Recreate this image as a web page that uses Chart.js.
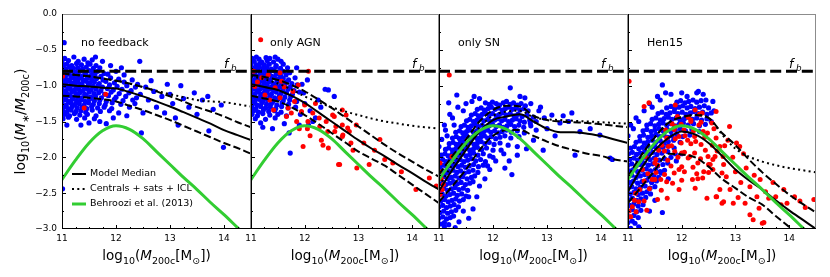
<!DOCTYPE html>
<html>
<head>
<meta charset="utf-8">
<script src="https://cdn.jsdelivr.net/npm/chart.js@4.4.1/dist/chart.umd.min.js"></script>
<style>
body { margin: 0; background: #fff; width: 830px; height: 277px; overflow: hidden; position: relative; }
canvas { position: absolute; top: 0; }
</style>
</head>
<body>
<canvas id="p0"></canvas>
<canvas id="p1"></canvas>
<canvas id="p2"></canvas>
<canvas id="p3"></canvas>
<script>
// ---- data ----
const lineX = [11, 11.25, 11.5, 11.75, 12, 12.25, 12.5, 12.75, 13, 13.25, 13.5, 13.75, 14, 14.25, 14.5];
const behrooziY = [-2.31, -2.04, -1.80, -1.63, -1.56, -1.61, -1.74, -1.92, -2.10, -2.28, -2.45, -2.63, -2.80, -2.98, -3.16];
const fbLevel = -0.80;

// no feedback
const nfMedian = [-0.98, -1.00, -1.01, -1.03, -1.04, -1.09, -1.15, -1.22, -1.29, -1.37, -1.45, -1.53, -1.62, -1.69, -1.76];
const nfUpper  = [-0.83, -0.85, -0.87, -0.90, -0.93, -0.97, -1.02, -1.08, -1.15, -1.22, -1.30, -1.36, -1.43, -1.51, -1.58];
const nfLower  = [-1.14, -1.15, -1.17, -1.19, -1.22, -1.28, -1.34, -1.41, -1.48, -1.56, -1.64, -1.72, -1.80, -1.87, -1.95];
const nfTotal  = [-0.83, -0.85, -0.87, -0.90, -0.93, -0.97, -1.02, -1.07, -1.12, -1.16, -1.20, -1.22, -1.23, -1.26, -1.29];
// only AGN
const agnMedian = [-0.98, -1.02, -1.06, -1.14, -1.24, -1.37, -1.50, -1.63, -1.76, -1.88, -1.99, -2.11, -2.22, -2.34, -2.45];
const agnUpper  = [-0.85, -0.88, -0.92, -0.99, -1.08, -1.19, -1.31, -1.44, -1.57, -1.70, -1.83, -1.95, -2.06, -2.17, -2.27];
const agnLower  = [-1.14, -1.18, -1.22, -1.30, -1.41, -1.53, -1.66, -1.79, -1.92, -2.02, -2.12, -2.25, -2.38, -2.51, -2.64];
const agnTotal  = [-0.87, -0.91, -0.97, -1.05, -1.15, -1.23, -1.30, -1.36, -1.41, -1.46, -1.50, -1.53, -1.56, -1.58, -1.60];
// only SN
const snMedian = [-2.47, -2.17, -1.90, -1.64, -1.48, -1.43, -1.40, -1.50, -1.60, -1.65, -1.65, -1.67, -1.70, -1.75, -1.80];
const snUpper  = [-2.24, -1.98, -1.75, -1.50, -1.34, -1.28, -1.29, -1.42, -1.48, -1.50, -1.51, -1.52, -1.54, -1.56, -1.58];
const snLower  = [-2.62, -2.40, -2.17, -1.90, -1.70, -1.62, -1.62, -1.70, -1.78, -1.85, -1.90, -1.95, -1.98, -2.03, -2.06];
const snTotal  = [-2.40, -2.10, -1.84, -1.58, -1.42, -1.36, -1.35, -1.44, -1.47, -1.48, -1.49, -1.50, -1.51, -1.52, -1.53];
// Hen15
const henMedian = [-2.48, -2.15, -1.90, -1.73, -1.64, -1.68, -1.80, -1.98, -2.17, -2.32, -2.45, -2.60, -2.74, -2.87, -3.00];
const henUpper  = [-2.27, -1.97, -1.72, -1.52, -1.44, -1.41, -1.45, -1.66, -1.83, -2.03, -2.21, -2.37, -2.52, -2.65, -2.77];
const henLower  = [-2.64, -2.41, -2.18, -1.95, -1.96, -2.00, -2.13, -2.30, -2.43, -2.56, -2.66, -2.82, -2.97, -3.12, -3.27];
const henTotal  = [-2.27, -1.97, -1.72, -1.52, -1.44, -1.41, -1.45, -1.68, -1.88, -1.99, -2.06, -2.11, -2.15, -2.18, -2.21];

const nfBlue = [
  [11.05,-0.62],[11.22,-0.6],[11.41,-0.63],
  [11.0,-0.67],[11.12,-0.65],[11.3,-0.66],[11.48,-0.68],[11.56,-0.64],
  [11.03,-0.71],[11.09,-0.7],[11.18,-0.72],[11.27,-0.69],[11.36,-0.71],[11.52,-0.7],[11.63,-0.72],
  [11.0,-0.75],[11.07,-0.77],[11.14,-0.74],[11.21,-0.76],[11.29,-0.75],[11.38,-0.77],[11.45,-0.74],[11.58,-0.76],[11.7,-0.75],
  [11.02,-0.8],[11.1,-0.82],[11.17,-0.79],[11.25,-0.81],[11.33,-0.8],[11.42,-0.82],[11.5,-0.79],[11.57,-0.81],[11.66,-0.8],[11.78,-0.83],
  [11.0,-0.85],[11.06,-0.87],[11.13,-0.84],[11.2,-0.86],[11.28,-0.85],[11.36,-0.87],[11.44,-0.84],[11.53,-0.86],[11.61,-0.85],[11.72,-0.87],[11.85,-0.84],
  [11.03,-0.9],[11.1,-0.92],[11.17,-0.89],[11.24,-0.91],[11.31,-0.9],[11.39,-0.92],[11.47,-0.89],[11.55,-0.91],[11.64,-0.9],[11.76,-0.92],[11.9,-0.89],[12.05,-0.91],
  [11.01,-0.95],[11.07,-0.97],[11.14,-0.94],[11.22,-0.96],[11.29,-0.95],[11.37,-0.97],[11.45,-0.94],[11.52,-0.96],[11.6,-0.95],[11.69,-0.97],[11.81,-0.94],[11.97,-0.96],[12.15,-0.95],
  [11.04,-1.0],[11.11,-1.02],[11.18,-0.99],[11.26,-1.01],[11.34,-1.0],[11.41,-1.02],[11.49,-0.99],[11.58,-1.01],[11.67,-1.0],[11.75,-1.02],[11.88,-0.99],[12.02,-1.01],[12.2,-1.0],[12.36,-1.02],
  [11.0,-1.05],[11.08,-1.07],[11.15,-1.04],[11.23,-1.06],[11.31,-1.05],[11.39,-1.07],[11.46,-1.04],[11.54,-1.06],[11.63,-1.05],[11.72,-1.07],[11.84,-1.04],[11.95,-1.06],[12.11,-1.05],[12.28,-1.07],
  [11.03,-1.1],[11.1,-1.12],[11.18,-1.09],[11.26,-1.11],[11.33,-1.1],[11.42,-1.12],[11.5,-1.09],[11.59,-1.11],[11.68,-1.1],[11.79,-1.12],[11.91,-1.09],[12.06,-1.11],[12.24,-1.1],[12.45,-1.12],
  [11.01,-1.15],[11.07,-1.17],[11.14,-1.14],[11.21,-1.16],[11.29,-1.15],[11.37,-1.17],[11.45,-1.14],[11.53,-1.16],[11.62,-1.15],[11.73,-1.17],[11.86,-1.14],[12.0,-1.16],[12.18,-1.15],[12.38,-1.17],
  [11.04,-1.2],[11.12,-1.22],[11.19,-1.19],[11.27,-1.21],[11.35,-1.2],[11.43,-1.22],[11.51,-1.19],[11.6,-1.21],[11.7,-1.2],[11.82,-1.22],[11.97,-1.19],[12.13,-1.21],[12.31,-1.2],
  [11.0,-1.25],[11.08,-1.27],[11.16,-1.24],[11.24,-1.26],[11.32,-1.25],[11.41,-1.27],[11.49,-1.24],[11.58,-1.26],[11.69,-1.25],[11.8,-1.27],[11.93,-1.24],[12.09,-1.26],
  [11.03,-1.3],[11.11,-1.32],[11.19,-1.29],[11.28,-1.31],[11.37,-1.3],[11.46,-1.32],[11.55,-1.29],[11.66,-1.31],[11.78,-1.3],[11.92,-1.32],
  [11.01,-1.35],[11.09,-1.37],[11.17,-1.34],[11.26,-1.36],[11.35,-1.35],[11.44,-1.37],[11.56,-1.34],[11.71,-1.36],[11.88,-1.35],
  [11.05,-1.4],[11.14,-1.42],[11.23,-1.39],[11.33,-1.41],[11.47,-1.4],[11.63,-1.42],
  [11.02,-1.46],[11.12,-1.44],[11.27,-1.47],[11.42,-1.45],[11.6,-1.46],
  [11.09,-1.55],[11.82,-1.53],[11.04,-0.4],[11.01,-2.44],[12.44,-0.66],[13.99,-1.86],[12.47,-1.66],[13.72,-1.63],
  [12.3,-0.92],[12.4,-0.98],[12.55,-1.02],[12.6,-1.2],[12.7,-1.08],[12.75,-1.3],[12.85,-1.15],[12.9,-1.38],[13.0,-1.12],
  [13.05,-1.25],[13.1,-1.45],[13.2,-1.0],[13.25,-1.18],[13.35,-1.3],[13.45,-1.1],[13.5,-1.4],[13.6,-1.2],[13.7,-1.15],
  [13.8,-1.33],[13.95,-1.27],[12.5,-1.38],[12.65,-0.93],[12.35,-1.25],[12.2,-1.42],[12.15,-0.85],[13.15,-1.55],[12.95,-0.98],
  [11.62,-0.6],[11.75,-0.66],[11.9,-0.72],[12.0,-0.8],[12.1,-0.75],[11.95,-1.45],[12.05,-1.38],[11.7,-1.5],
  [11.5,-1.52],[12.25,-1.3],[11.35,-1.55]
];
const nfRed = [[11.01,-0.87],[11.81,-1.12],[11.41,-1.31]];

const agnBlue = [
  [11.1,-0.6],[11.28,-0.61],[11.45,-0.6],
  [11.02,-0.62],[11.15,-0.63],[11.35,-0.62],[11.5,-0.63],
  [11.06,-0.66],[11.2,-0.67],[11.3,-0.65],[11.42,-0.67],[11.56,-0.66],
  [11.0,-0.7],[11.1,-0.71],[11.17,-0.69],[11.25,-0.71],[11.34,-0.7],[11.47,-0.72],[11.6,-0.7],
  [11.03,-0.75],[11.09,-0.77],[11.15,-0.74],[11.22,-0.76],[11.3,-0.75],[11.38,-0.77],[11.46,-0.74],[11.55,-0.76],[11.68,-0.75],
  [11.0,-0.8],[11.07,-0.82],[11.13,-0.79],[11.2,-0.81],[11.27,-0.8],[11.34,-0.82],[11.42,-0.79],[11.5,-0.81],[11.6,-0.8],[11.72,-0.82],
  [11.03,-0.85],[11.1,-0.87],[11.17,-0.84],[11.24,-0.86],[11.31,-0.85],[11.39,-0.87],[11.47,-0.84],[11.55,-0.86],[11.65,-0.85],
  [11.0,-0.9],[11.07,-0.92],[11.14,-0.89],[11.21,-0.91],[11.28,-0.9],[11.36,-0.92],[11.44,-0.89],[11.52,-0.91],[11.6,-0.9],[11.7,-0.92],[11.82,-0.89],
  [11.04,-0.95],[11.11,-0.97],[11.18,-0.94],[11.25,-0.96],[11.33,-0.95],[11.41,-0.97],[11.49,-0.94],[11.57,-0.96],[11.66,-0.95],[11.76,-0.97],
  [11.01,-1.0],[11.08,-1.02],[11.15,-0.99],[11.22,-1.01],[11.3,-1.0],[11.38,-1.02],[11.46,-0.99],[11.54,-1.01],[11.63,-1.0],[11.73,-1.02],[11.86,-0.99],
  [11.04,-1.05],[11.11,-1.07],[11.18,-1.04],[11.26,-1.06],[11.34,-1.05],[11.42,-1.07],[11.5,-1.04],[11.59,-1.06],[11.69,-1.05],[11.8,-1.07],
  [11.0,-1.1],[11.07,-1.12],[11.14,-1.09],[11.22,-1.11],[11.3,-1.1],[11.38,-1.12],[11.47,-1.09],[11.56,-1.11],[11.66,-1.1],[11.77,-1.12],[11.9,-1.09],
  [11.03,-1.15],[11.1,-1.17],[11.18,-1.14],[11.26,-1.16],[11.35,-1.15],[11.44,-1.17],[11.53,-1.14],[11.63,-1.16],[11.74,-1.15],
  [11.0,-1.2],[11.07,-1.22],[11.15,-1.19],[11.23,-1.21],[11.32,-1.2],[11.41,-1.22],[11.5,-1.19],[11.6,-1.21],[11.72,-1.2],[11.85,-1.22],
  [11.04,-1.25],[11.12,-1.27],[11.2,-1.24],[11.29,-1.26],[11.38,-1.25],[11.48,-1.27],[11.58,-1.24],[11.7,-1.26],
  [11.01,-1.3],[11.09,-1.32],[11.18,-1.29],[11.27,-1.31],[11.36,-1.3],[11.46,-1.32],[11.57,-1.29],[11.69,-1.31],[11.83,-1.3],
  [11.05,-1.35],[11.14,-1.37],[11.23,-1.34],[11.33,-1.36],[11.44,-1.35],[11.56,-1.37],
  [11.02,-1.4],[11.12,-1.42],[11.22,-1.39],[11.35,-1.41],[11.5,-1.4],[11.66,-1.42],
  [11.08,-1.46],[11.27,-1.47],[11.45,-1.45],[11.18,-1.52],[11.62,-1.53],
  [11.71,-1.66],[11.73,-1.94],[12.07,-1.55],[12.44,-1.06],[12.38,-1.05],[12.25,-1.2],[11.95,-0.98],[12.0,-1.25],
  [12.1,-1.35],[11.92,-1.4],[12.15,-1.5],[11.85,-0.75],[12.55,-1.15],[11.4,-1.6],[11.22,-1.58],[12.2,-1.45],
  [11.98,-1.1],[12.3,-1.3],[11.9,-1.55],[12.05,-0.92]
];
const agnRed = [
  [11.18,-0.36],[11.54,-0.82],[12.07,-0.8],[11.88,-0.99],[11.78,-1.08],[12.0,-1.27],[11.94,-1.36],[11.75,-1.38],
  [12.15,-1.38],[12.27,-1.45],[12.06,-1.5],[12.4,-1.5],[12.55,-1.43],[12.58,-1.57],[12.71,-1.69],[12.8,-1.59],
  [12.86,-1.8],[12.43,-1.64],[12.34,-1.83],[11.97,-1.85],[12.65,-2.1],[11.42,-1.34],[11.45,-1.03],[11.32,-0.85],
  [11.57,-0.94],[11.69,-1.31],[11.26,-1.13],[11.2,-0.89],[11.07,-1.01],[11.54,-1.17],[11.81,-1.22],[11.66,-1.43],
  [12.52,-1.41],[12.77,-1.41],[12.7,-1.55],[12.83,-1.64],[12.7,-1.71],[12.63,-2.1],[12.97,-2.15],[12.44,-1.87],
  [13.3,-1.9],[13.49,-2.03],[13.64,-2.08],[14.07,-2.45],[14.32,-2.29],[12.96,-1.55],[12.7,-1.34],[12.56,-1.64],
  [12.28,-1.57],[12.31,-1.76],[11.9,-1.6],[12.2,-1.25],[11.62,-1.02],[11.12,-0.95],[11.35,-1.2],[11.05,-0.8],
  [12.1,-1.7],[12.9,-1.9],[13.1,-1.8],[13.4,-1.75],[13.2,-2.1],[13.8,-2.2],[14.45,-2.4],[11.85,-1.5],[12.05,-1.6]
];

const snBlue = [
  [11.86,-1.24],[11.93,-1.26],[11.99,-1.23],[12.06,-1.25],[12.12,-1.27],[12.19,-1.24],[12.25,-1.22],[12.32,-1.26],[12.38,-1.24],[12.45,-1.27],[12.52,-1.25],[12.6,-1.28],
  [11.71,-1.33],[11.78,-1.31],[11.84,-1.34],[11.91,-1.32],[11.97,-1.3],[12.04,-1.33],[12.1,-1.31],[12.17,-1.34],[12.23,-1.32],[12.3,-1.3],[12.36,-1.33],[12.43,-1.31],[12.5,-1.34],[12.57,-1.32],[12.65,-1.35],
  [11.6,-1.41],[11.67,-1.39],[11.73,-1.42],[11.8,-1.4],[11.86,-1.38],[11.93,-1.41],[11.99,-1.39],[12.06,-1.42],[12.12,-1.4],[12.19,-1.38],[12.25,-1.41],[12.32,-1.39],[12.39,-1.42],[12.46,-1.4],[12.54,-1.43],[12.63,-1.41],[12.75,-1.44],
  [11.51,-1.49],[11.57,-1.47],[11.64,-1.5],[11.7,-1.48],[11.77,-1.46],[11.83,-1.49],[11.9,-1.47],[11.96,-1.5],[12.03,-1.48],[12.09,-1.46],[12.16,-1.49],[12.22,-1.47],[12.29,-1.5],[12.36,-1.48],[12.43,-1.46],[12.5,-1.49],[12.58,-1.51],[12.68,-1.48],[12.8,-1.5],
  [11.41,-1.57],[11.47,-1.55],[11.54,-1.58],[11.6,-1.56],[11.67,-1.54],[11.73,-1.57],[11.8,-1.55],[11.86,-1.58],[11.93,-1.56],[11.99,-1.54],[12.06,-1.57],[12.12,-1.55],[12.19,-1.58],[12.26,-1.56],[12.33,-1.54],[12.4,-1.57],[12.48,-1.55],[12.57,-1.58],[12.7,-1.56],
  [11.31,-1.65],[11.38,-1.63],[11.44,-1.66],[11.51,-1.64],[11.57,-1.62],[11.64,-1.65],[11.7,-1.63],[11.77,-1.66],[11.83,-1.64],[11.9,-1.62],[11.96,-1.65],[12.03,-1.63],[12.1,-1.66],[12.17,-1.64],[12.25,-1.62],[12.34,-1.65],[12.45,-1.63],[12.58,-1.66],
  [11.25,-1.73],[11.32,-1.71],[11.38,-1.74],[11.45,-1.72],[11.51,-1.7],[11.58,-1.73],[11.64,-1.71],[11.71,-1.74],[11.77,-1.72],[11.84,-1.7],[11.9,-1.73],[11.97,-1.71],[12.05,-1.74],[12.13,-1.72],[12.22,-1.7],[12.33,-1.73],[12.48,-1.71],
  [11.19,-1.81],[11.26,-1.79],[11.32,-1.82],[11.39,-1.8],[11.45,-1.78],[11.52,-1.81],[11.58,-1.79],[11.65,-1.82],[11.71,-1.8],[11.78,-1.78],[11.85,-1.81],[11.93,-1.79],[12.02,-1.82],[12.13,-1.8],[12.28,-1.83],
  [11.12,-1.89],[11.18,-1.87],[11.25,-1.9],[11.31,-1.88],[11.38,-1.86],[11.44,-1.89],[11.51,-1.87],[11.57,-1.9],[11.64,-1.88],[11.71,-1.86],[11.79,-1.89],[11.88,-1.87],[12.0,-1.9],
  [11.04,-1.97],[11.11,-1.95],[11.17,-1.98],[11.24,-1.96],[11.3,-1.94],[11.37,-1.97],[11.43,-1.95],[11.5,-1.98],[11.57,-1.96],[11.64,-1.94],[11.72,-1.97],[11.82,-1.95],[11.94,-1.98],
  [11.0,-2.05],[11.07,-2.03],[11.13,-2.06],[11.2,-2.04],[11.26,-2.02],[11.33,-2.05],[11.39,-2.03],[11.46,-2.06],[11.53,-2.04],[11.6,-2.02],[11.68,-2.05],[11.77,-2.03],[11.86,-2.06],
  [11.02,-2.13],[11.09,-2.11],[11.15,-2.14],[11.22,-2.12],[11.28,-2.1],[11.35,-2.13],[11.42,-2.11],[11.49,-2.14],[11.56,-2.12],[11.64,-2.1],[11.73,-2.13],[11.82,-2.11],
  [11.0,-2.21],[11.06,-2.19],[11.13,-2.22],[11.19,-2.2],[11.26,-2.18],[11.33,-2.21],[11.4,-2.19],[11.47,-2.22],[11.55,-2.2],[11.63,-2.18],[11.72,-2.21],
  [11.03,-2.29],[11.09,-2.27],[11.16,-2.3],[11.23,-2.28],[11.3,-2.26],[11.37,-2.29],[11.44,-2.27],[11.52,-2.3],[11.6,-2.28],[11.66,-2.26],
  [11.0,-2.37],[11.07,-2.35],[11.13,-2.38],[11.2,-2.36],[11.27,-2.34],[11.34,-2.37],[11.41,-2.35],[11.49,-2.38],[11.57,-2.36],[11.63,-2.34],
  [11.02,-2.45],[11.09,-2.43],[11.16,-2.46],[11.23,-2.44],[11.3,-2.42],[11.37,-2.45],[11.45,-2.43],[11.53,-2.46],
  [11.0,-2.53],[11.06,-2.51],[11.13,-2.54],[11.2,-2.52],[11.27,-2.5],[11.34,-2.53],[11.42,-2.51],[11.5,-2.54],
  [11.03,-2.61],[11.1,-2.59],[11.17,-2.62],[11.24,-2.6],[11.31,-2.58],[11.38,-2.61],[11.45,-2.59],
  [11.0,-2.69],[11.07,-2.67],[11.14,-2.7],[11.21,-2.68],[11.28,-2.66],[11.36,-2.69],
  [11.02,-2.77],[11.09,-2.75],[11.16,-2.78],[11.23,-2.76],[11.31,-2.74],
  [11.0,-2.85],[11.07,-2.83],[11.14,-2.86],[11.21,-2.84],[11.27,-2.82],
  [11.03,-2.93],[11.1,-2.91],[11.18,-2.94],
  [11.33,-1.13],[11.18,-1.24],[11.61,-1.22],[12.32,-1.03],[12.59,-1.17],[12.35,-2.24],[11.94,-2.17],[12.22,-2.15],
  [11.63,-2.72],[11.37,-2.9],[11.05,-1.75],[11.12,-1.62],[11.0,-1.85],[11.25,-1.45],[11.45,-1.35],[11.75,-1.18],
  [12.5,-1.15],[12.7,-1.25],[12.85,-1.35],[12.15,-1.9],[12.45,-1.85],[12.05,-2.05],[11.55,-2.55],[11.45,-2.75],
  [11.3,-2.98],[11.1,-2.97],[11.85,-2.3],
  [13.09,-1.41],[13.46,-1.38],[13.4,-1.5],[13.24,-1.52],[13.61,-1.64],[13.98,-1.69],[14.17,-2.01],[12.93,-1.9],
  [13.52,-1.97],[12.75,-1.76],[12.69,-1.52],[12.95,-1.45],[13.0,-1.6],[12.88,-1.3],[13.15,-1.7],[12.8,-1.62],
  [13.3,-1.42],[14.21,-2.03],[13.8,-1.6],[12.62,-1.88],
  [11.1,-1.55],[11.2,-1.4],[11.35,-1.3],[11.5,-1.25],[11.65,-1.15],[11.15,-1.7],[11.28,-1.55],[12.0,-2.0],
  [11.9,-2.12],[11.75,-2.4],[11.7,-2.55],[11.55,-2.85],[12.2,-1.95],[12.45,-1.97],[12.3,-2.05]
];
const snRed = [[11.02,-2.08],[11.06,-2.45],[11.02,-2.52],[11.24,-1.99],[11.19,-0.85],[11.04,-2.3],[11.08,-2.38],[11.01,-2.2]];

const henBlue = [
  [11.91,-1.23],[11.98,-1.21],[12.06,-1.24],[12.13,-1.22],[12.21,-1.2],[12.28,-1.23],[12.36,-1.21],
  [11.72,-1.31],[11.8,-1.29],[11.87,-1.32],[11.95,-1.3],[12.02,-1.28],[12.1,-1.31],[12.17,-1.29],[12.25,-1.32],[12.33,-1.3],[12.42,-1.28],[12.5,-1.31],
  [11.56,-1.39],[11.63,-1.37],[11.71,-1.4],[11.78,-1.38],[11.86,-1.36],[11.93,-1.39],[12.01,-1.37],[12.08,-1.4],[12.16,-1.38],[12.23,-1.36],[12.31,-1.39],[12.39,-1.37],[12.47,-1.4],[12.55,-1.38],
  [11.45,-1.47],[11.52,-1.45],[11.6,-1.48],[11.67,-1.46],[11.75,-1.44],[11.82,-1.47],[11.9,-1.45],[11.97,-1.48],[12.05,-1.46],[12.12,-1.44],[12.2,-1.47],[12.28,-1.45],[12.37,-1.48],[12.47,-1.46],
  [11.35,-1.55],[11.42,-1.53],[11.5,-1.56],[11.57,-1.54],[11.65,-1.52],[11.72,-1.55],[11.8,-1.53],[11.87,-1.56],[11.95,-1.54],[12.03,-1.52],[12.12,-1.55],[12.22,-1.53],[12.33,-1.56],[12.44,-1.54],
  [11.28,-1.63],[11.35,-1.61],[11.43,-1.64],[11.5,-1.62],[11.58,-1.6],[11.65,-1.63],[11.73,-1.61],[11.8,-1.64],[11.88,-1.62],[11.97,-1.6],[12.07,-1.63],[12.19,-1.61],[12.33,-1.64],
  [11.22,-1.71],[11.29,-1.69],[11.37,-1.72],[11.44,-1.7],[11.52,-1.68],[11.59,-1.71],[11.67,-1.69],[11.74,-1.72],[11.82,-1.7],[11.91,-1.68],[12.02,-1.71],[12.15,-1.69],
  [11.15,-1.79],[11.22,-1.77],[11.3,-1.8],[11.37,-1.78],[11.45,-1.76],[11.52,-1.79],[11.6,-1.77],[11.67,-1.8],[11.75,-1.78],[11.85,-1.76],[11.97,-1.79],
  [11.05,-1.87],[11.12,-1.85],[11.2,-1.88],[11.27,-1.86],[11.35,-1.84],[11.42,-1.87],[11.5,-1.85],[11.57,-1.88],[11.65,-1.86],[11.74,-1.84],[11.86,-1.87],
  [11.01,-1.95],[11.08,-1.93],[11.16,-1.96],[11.23,-1.94],[11.31,-1.92],[11.38,-1.95],[11.46,-1.93],[11.54,-1.96],[11.63,-1.94],[11.74,-1.92],[11.88,-1.95],
  [11.03,-2.03],[11.11,-2.01],[11.18,-2.04],[11.26,-2.02],[11.33,-2.0],[11.41,-2.03],[11.49,-2.01],[11.58,-2.04],[11.68,-2.02],[11.8,-2.0],
  [11.0,-2.11],[11.07,-2.09],[11.15,-2.12],[11.22,-2.1],[11.3,-2.08],[11.38,-2.11],[11.46,-2.09],[11.55,-2.12],[11.65,-2.1],[11.74,-2.08],
  [11.03,-2.19],[11.1,-2.17],[11.18,-2.2],[11.26,-2.18],[11.34,-2.16],[11.42,-2.19],[11.51,-2.17],[11.6,-2.2],[11.68,-2.18],
  [11.0,-2.27],[11.07,-2.25],[11.15,-2.28],[11.23,-2.26],[11.31,-2.24],[11.39,-2.27],[11.48,-2.25],[11.57,-2.28],[11.62,-2.22],
  [11.03,-2.35],[11.1,-2.33],[11.18,-2.36],[11.26,-2.34],[11.35,-2.32],[11.44,-2.35],[11.53,-2.33],
  [11.0,-2.43],[11.07,-2.41],[11.15,-2.44],[11.23,-2.42],[11.32,-2.4],[11.41,-2.43],[11.5,-2.41],
  [11.03,-2.51],[11.11,-2.49],[11.19,-2.52],[11.27,-2.5],[11.35,-2.48],[11.42,-2.51],
  [11.0,-2.59],[11.08,-2.57],[11.16,-2.6],[11.24,-2.58],[11.33,-2.56],
  [11.03,-2.67],[11.11,-2.65],[11.19,-2.68],[11.28,-2.66],
  [11.0,-2.75],[11.08,-2.73],[11.16,-2.76],[11.24,-2.74],
  [11.03,-2.83],[11.11,-2.81],[11.19,-2.84],
  [11.0,-2.91],[11.08,-2.89],[11.13,-2.92],
  [11.64,-0.99],[12.31,-1.08],[12.45,-1.2],[11.55,-1.15],[12.58,-1.22],[12.28,-1.1],[11.64,-2.77],[11.2,-2.97],
  [11.05,-1.55],[11.15,-1.45],[11.0,-1.7],[11.3,-1.35],[11.4,-1.25],[11.8,-1.12],[12.1,-1.15],[12.6,-1.35],
  [12.55,-1.5],[12.0,-1.95],[11.9,-2.05],[11.75,-2.3],[11.5,-2.6],[11.4,-2.75],[11.05,-2.99],
  [11.1,-1.6],[11.2,-1.5],[11.45,-1.3],[11.6,-1.2],[11.7,-1.1],[12.0,-1.1],[12.4,-1.12]
];
const henRed = [
  [11.02,-0.94],[11.3,-1.29],[11.39,-1.24],[11.88,-1.27],[12.25,-1.34],[12.38,-1.38],[12.17,-1.48],[12.32,-1.55],
  [11.95,-1.71],[12.11,-1.76],[12.26,-1.78],[12.44,-1.71],[12.0,-1.94],[12.15,-1.99],[12.3,-2.08],[12.49,-1.99],
  [12.58,-2.17],[12.39,-2.29],[12.2,-2.31],[11.95,-2.17],[11.83,-2.36],[11.61,-2.31],[11.73,-2.57],[12.77,-1.99],
  [12.83,-2.27],[12.64,-2.55],[12.78,-2.62],[11.45,-2.31],[11.27,-2.17],[11.14,-2.5],[11.08,-2.69],[11.2,-2.62],
  [11.05,-2.83],[11.57,-1.9],[11.75,-1.85],[11.5,-2.08],[11.32,-1.99],[11.88,-1.57],[11.7,-1.62],
  [12.64,-1.36],[12.89,-1.57],[12.86,-1.76],[12.71,-1.85],[13.02,-1.8],[13.08,-1.85],[12.62,-1.99],[12.53,-2.1],
  [12.78,-2.1],[12.75,-2.22],[12.41,-2.2],[12.47,-2.57],[12.71,-2.45],[12.75,-2.64],[12.96,-2.64],[13.18,-2.64],
  [13.46,-2.31],[13.27,-2.41],[13.56,-2.48],[13.62,-2.57],[13.44,-2.71],[13.5,-2.92],[13.96,-2.64],[14.46,-2.59],
  [13.27,-2.8],[12.48,-1.66],[14.2,-2.61],[13.53,-2.91],[13.33,-2.87],[13.05,-2.56],[12.65,-2.55],[13.75,-2.55],
  [13.85,-2.66],[13.2,-2.15],[13.35,-2.25],[13.1,-2.35],[13.7,-2.35],[13.9,-2.45],[14.1,-2.55],[14.3,-2.7],
  [13.4,-2.55],[12.95,-2.0],[13.15,-1.95],[12.9,-2.45],[13.0,-2.2],
  [11.92,-1.43],[12.12,-1.44],[12.33,-1.4],
  [11.82,-1.53],[11.99,-1.54],[12.17,-1.5],[12.36,-1.51],[12.56,-1.52],
  [11.86,-1.61],[12.04,-1.62],[12.22,-1.63],[12.4,-1.64],[12.6,-1.6],
  [11.72,-1.73],[11.88,-1.74],[12.06,-1.7],[12.24,-1.71],[12.43,-1.72],[12.64,-1.73],
  [11.63,-1.83],[11.81,-1.84],[11.99,-1.8],[12.17,-1.81],[12.36,-1.82],[12.57,-1.83],[12.8,-1.84],
  [11.68,-1.91],[11.87,-1.92],[12.05,-1.93],[12.24,-1.94],[12.44,-1.9],[12.66,-1.91],
  [11.52,-2.03],[11.74,-2.04],[11.93,-2.0],[12.12,-2.01],[12.35,-2.02],[12.58,-2.03],
  [11.55,-2.11],[11.8,-2.12],[12.0,-2.13],[12.21,-2.14],[12.5,-2.1],
  [11.37,-2.23],[11.52,-2.21],[11.68,-2.24],[11.86,-2.22],[12.05,-2.2],[12.28,-2.23],[12.5,-2.21],
  [11.3,-2.33],[11.5,-2.31],[11.72,-2.34],[12.0,-2.32],[12.3,-2.3],
  [11.22,-2.45],[11.4,-2.44],[11.62,-2.46],[11.95,-2.45],[12.25,-2.43],
  [11.12,-2.6],[11.3,-2.61],[11.55,-2.59],[11.02,-2.75],[11.15,-2.76],[11.35,-2.74]
];

const panelNames = ['no feedback', 'only AGN', 'only SN', 'Hen15'];
const legendLabels = ['Model Median', 'Centrals + sats + ICL', 'Behroozi et al. (2013)'];
const xTicks = [11, 12, 13, 14];
const yTicks = [0, -0.5, -1, -1.5, -2, -2.5, -3];
const yTickLabels = ['0.0', '\u22120.5', '\u22121.0', '\u22121.5', '\u22122.0', '\u22122.5', '\u22123.0'];

// ---- layout ----
const FONT = 'DejaVu Sans';
const pL = [62, 251, 439, 628];
const pR = [251, 439, 628, 816];
const GREEN = '#32cd32';

function pts(arr) { return arr.map(p => ({x: p[0], y: p[1]})); }
function curve(ys) { return lineX.map((x, i) => ({x: x, y: ys[i]})); }

function rich(ctx, parts, x, y) {
  let w = 0;
  parts.forEach(p => {
    ctx.font = (p[3] ? 'italic ' : '') + p[1] + 'px "' + FONT + '"';
    w += ctx.measureText(p[0]).width;
  });
  let cx = x - w / 2;
  ctx.textAlign = 'left';
  ctx.textBaseline = 'alphabetic';
  parts.forEach(p => {
    ctx.font = (p[3] ? 'italic ' : '') + p[1] + 'px "' + FONT + '"';
    ctx.fillText(p[0], cx, y + (p[2] || 0));
    cx += ctx.measureText(p[0]).width;
  });
}

const xTitle = [['log', 13.5], ['10', 9.5, 3.5], ['(', 13.5], ['M', 13.5, 0, true], ['200c', 9.5, 3.5], ['[M', 13.5], ['\u2299', 9.5, 3.5], ['])', 13.5]];
const yTitle = [['log', 14], ['10', 9.8, 3.5], ['(', 14], ['M', 14, 0, true], ['\u2217', 9.8, 3.5], ['/', 14], ['M', 14, 0, true], ['200c', 9.8, 3.5], [')', 14]];

function seg(ctx, x1, y1, x2, y2) {
  ctx.beginPath(); ctx.moveTo(x1, y1); ctx.lineTo(x2, y2); ctx.stroke();
}

function makeDecor(i) {
  return {
    id: 'decor' + i,
    afterDraw(chart) {
      const ctx = chart.ctx, a = chart.chartArea;
      const xs = chart.scales.x, ys = chart.scales.y;
      ctx.save();
      // spines
      ctx.lineWidth = 1;
      ctx.strokeStyle = '#8c8c8c';
      seg(ctx, a.left, a.top + 0.5, a.right, a.top + 0.5);
      seg(ctx, a.right - 0.5, a.top, a.right - 0.5, a.bottom);
      ctx.strokeStyle = '#000';
      seg(ctx, a.left + 0.5, a.top, a.left + 0.5, a.bottom);
      seg(ctx, a.left, a.bottom - 0.5, a.right, a.bottom - 0.5);
      // inward ticks
      for (let k = 1; k < 14; k++) {
        const v = 11 + k * 0.25;
        const px = Math.round(xs.getPixelForValue(v)) + 0.5;
        seg(ctx, px, a.bottom, px, a.bottom - (k % 4 === 0 ? 4 : 2));
      }
      for (let k = 1; k < 12; k++) {
        const v = -k * 0.25;
        const py = Math.round(ys.getPixelForValue(v)) + 0.5;
        seg(ctx, a.left, py, a.left + (k % 2 === 0 ? 4 : 2), py);
      }
      // panel name
      ctx.fillStyle = '#000';
      ctx.font = '11px "' + FONT + '"';
      ctx.textAlign = 'left';
      ctx.textBaseline = 'alphabetic';
      ctx.fillText(panelNames[i], a.left + 19, 46);
      // f_b label
      ctx.font = 'italic 12.5px "' + FONT + '"';
      ctx.fillText('f', a.right - 27, 68);
      ctx.font = 'italic 8.8px "' + FONT + '"';
      ctx.fillText('b', a.right - 20, 71);
      // x title
      rich(ctx, xTitle, (a.left + a.right) / 2, 260);
      if (i === 0) {
        // y title
        ctx.save();
        ctx.translate(25, (a.top + a.bottom) / 2);
        ctx.rotate(-Math.PI / 2);
        rich(ctx, yTitle, 0, 0);
        ctx.restore();
        // legend
        const rows = [a.top + 160, a.top + 175, a.top + 190];
        const styles = [['#000', 2, []], ['#000', 2, [2, 3.3]], [GREEN, 3, []]];
        rows.forEach((ry, r) => {
          ctx.strokeStyle = styles[r][0];
          ctx.lineWidth = styles[r][1];
          ctx.setLineDash(styles[r][2]);
          seg(ctx, a.left + 10, ry, a.left + 24, ry);
          ctx.setLineDash([]);
          ctx.fillStyle = '#000';
          ctx.font = '9.5px "' + FONT + '"';
          ctx.textBaseline = 'middle';
          ctx.fillText(legendLabels[r], a.left + 28, ry);
        });
      }
      ctx.restore();
    }
  };
}

const panels = [
  {blue: nfBlue, red: nfRed, med: nfMedian, up: nfUpper, lo: nfLower, tot: nfTotal},
  {blue: agnBlue, red: agnRed, med: agnMedian, up: agnUpper, lo: agnLower, tot: agnTotal},
  {blue: snBlue, red: snRed, med: snMedian, up: snUpper, lo: snLower, tot: snTotal},
  {blue: henBlue, red: henRed, med: henMedian, up: henUpper, lo: henLower, tot: henTotal}
];

panels.forEach((p, i) => {
  const cv = document.getElementById('p' + i);
  const left = i === 0 ? 0 : pL[i] - 20;
  const yW = i === 0 ? 62 : 20;
  cv.width = pR[i] - left + 20;
  cv.height = 277;
  cv.style.left = left + 'px';

  const lineDs = (ys, w, dash, color) => ({
    type: 'line', data: curve(ys), borderColor: color || '#000', borderWidth: w, borderDash: dash,
    pointRadius: 0, fill: false, cubicInterpolationMode: 'monotone', clip: 0
  });

  new Chart(cv, {
    type: 'scatter',
    data: {
      datasets: [
        lineDs(behrooziY, 3, [], GREEN),
        lineDs(p.med, 2, []),
        lineDs(p.tot, 2, [2, 3.3]),
        lineDs(p.up, 2, [7.4, 3.2]),
        lineDs(p.lo, 2, [7.4, 3.2]),
        {type: 'line', data: [{x: 11, y: fbLevel}, {x: 14.5, y: fbLevel}], borderColor: '#000', borderWidth: 3,
         borderDash: [11, 4.8], pointRadius: 0, fill: false, clip: 0},
        {data: pts(p.red), backgroundColor: '#ff0000', borderWidth: 0, pointRadius: 2.5, clip: 0},
        {data: pts(p.blue), backgroundColor: '#0000ff', borderWidth: 0, pointRadius: 2.6, clip: 0}
      ]
    },
    options: {
      responsive: false,
      animation: false,
      events: [],
      layout: {padding: {left: 0, right: 20, top: 14, bottom: 0}, autoPadding: false},
      plugins: {legend: {display: false}, tooltip: {enabled: false}},
      scales: {
        x: {
          type: 'linear', min: 11, max: 14.5,
          afterFit: s => { s.height = 48; },
          afterBuildTicks: s => { s.ticks = xTicks.map(v => ({value: v})); },
          grid: {display: false, drawTicks: false},
          border: {display: false},
          ticks: {color: '#000', font: {family: FONT, size: 9}, padding: 4, maxRotation: 0, autoSkip: false}
        },
        y: {
          type: 'linear', min: -3, max: 0,
          afterFit: s => { s.width = yW; },
          afterBuildTicks: s => { s.ticks = yTicks.map(v => ({value: v})); },
          grid: {display: false, drawTicks: false},
          border: {display: false},
          ticks: {
            display: i === 0, color: '#000', font: {family: FONT, size: 9}, padding: 5, autoSkip: false,
            callback: v => yTickLabels[yTicks.indexOf(v)]
          }
        }
      }
    },
    plugins: [makeDecor(i)]
  });
});
</script>
</body>
</html>
